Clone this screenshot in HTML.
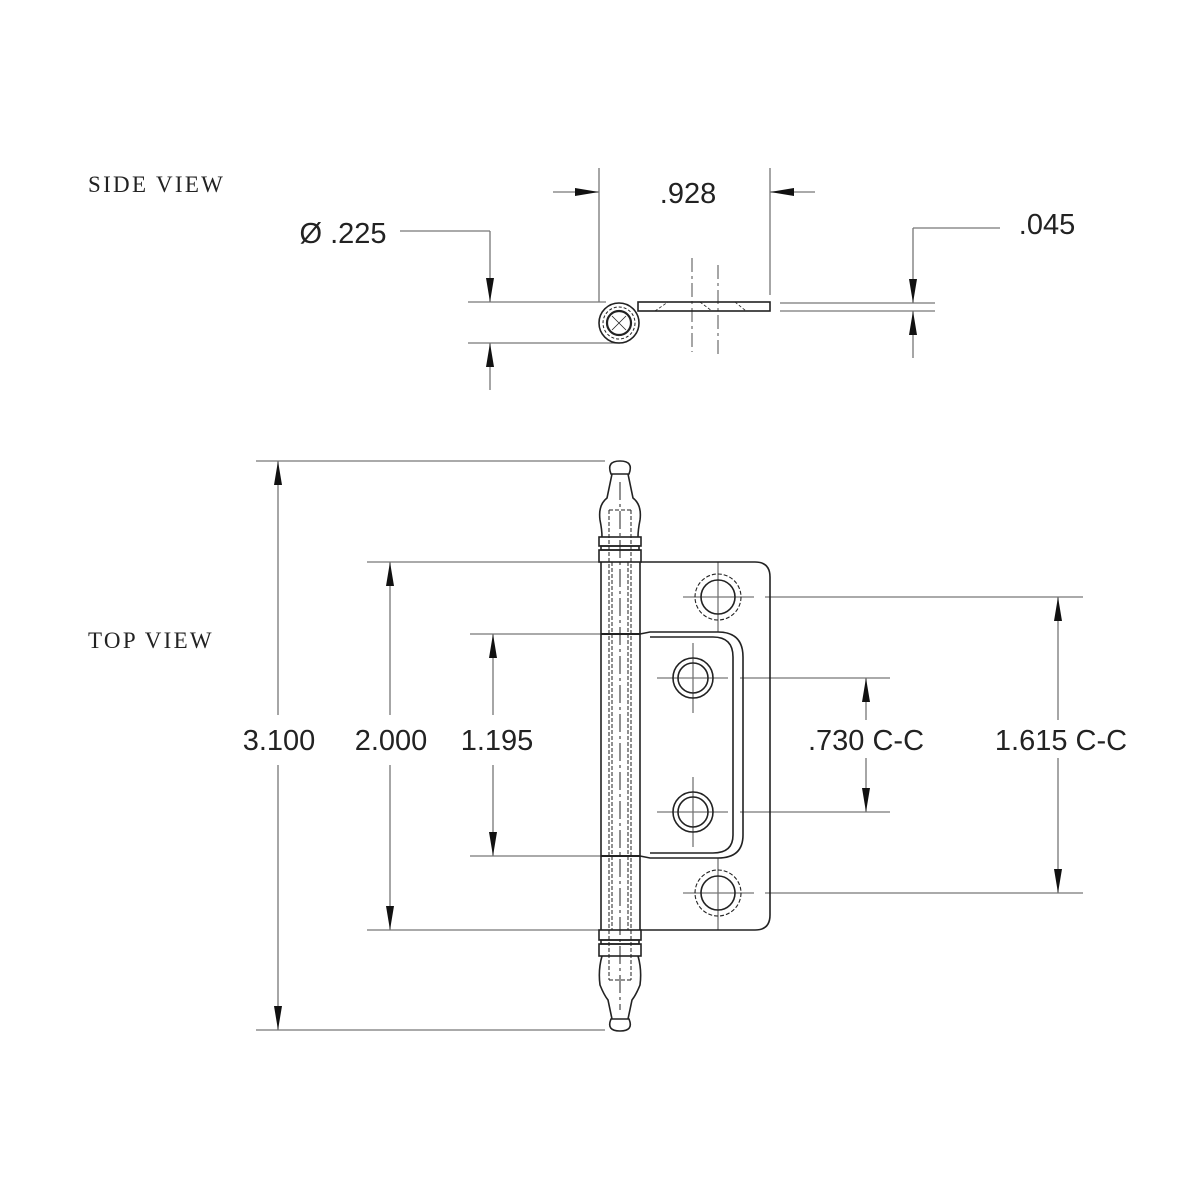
<!DOCTYPE html>
<html><head><meta charset="utf-8"><style>
html,body{margin:0;padding:0;background:#fff}
svg{display:block}
.t{font-family:"Liberation Sans",sans-serif;font-size:29px;fill:#222;text-anchor:middle}
.s{font-family:"Liberation Serif",serif;font-size:23px;fill:#222;letter-spacing:2.3px}
</style></head><body>
<svg width="1200" height="1200" viewBox="0 0 1200 1200" xmlns="http://www.w3.org/2000/svg">
<defs>
<marker id="a" viewBox="0 0 24 8" refX="24" refY="4" markerWidth="24" markerHeight="8" markerUnits="userSpaceOnUse" orient="auto"><path d="M0,0 L24,4 L0,8 z" fill="#111"/></marker>
</defs>
<g stroke="#777" stroke-width="1.3" fill="none">
<line x1="468" y1="302" x2="606" y2="302"/>
<line x1="468" y1="343" x2="620" y2="343"/>
<line x1="400" y1="231" x2="490" y2="231"/>
<line x1="490" y1="231" x2="490" y2="302" marker-end="url(#a)"/>
<line x1="490" y1="390" x2="490" y2="343" marker-end="url(#a)"/>
<line x1="599" y1="168" x2="599" y2="302"/>
<line x1="770" y1="168" x2="770" y2="295"/>
<line x1="553" y1="192" x2="599" y2="192" marker-end="url(#a)"/>
<line x1="815" y1="192" x2="770" y2="192" marker-end="url(#a)"/>
<line x1="780" y1="303" x2="935" y2="303"/>
<line x1="780" y1="311" x2="935" y2="311"/>
<line x1="913" y1="228" x2="1000" y2="228"/>
<line x1="913" y1="228" x2="913" y2="303" marker-end="url(#a)"/>
<line x1="913" y1="358" x2="913" y2="311" marker-end="url(#a)"/>
<line x1="692" y1="258" x2="692" y2="352" stroke-dasharray="14,4,3,4"/>
<line x1="718" y1="265" x2="718" y2="358" stroke-dasharray="14,4,3,4"/>
<line x1="256" y1="461" x2="605" y2="461"/>
<line x1="256" y1="1030" x2="605" y2="1030"/>
<line x1="278" y1="715" x2="278" y2="461" marker-end="url(#a)"/>
<line x1="278" y1="765" x2="278" y2="1030" marker-end="url(#a)"/>
<line x1="367" y1="562" x2="600" y2="562"/>
<line x1="367" y1="930" x2="600" y2="930"/>
<line x1="390" y1="715" x2="390" y2="562" marker-end="url(#a)"/>
<line x1="390" y1="765" x2="390" y2="930" marker-end="url(#a)"/>
<line x1="470" y1="634" x2="640" y2="634"/>
<line x1="470" y1="856" x2="640" y2="856"/>
<line x1="493" y1="715" x2="493" y2="634" marker-end="url(#a)"/>
<line x1="493" y1="765" x2="493" y2="856" marker-end="url(#a)"/>
<line x1="740" y1="678" x2="890" y2="678"/>
<line x1="740" y1="812" x2="890" y2="812"/>
<line x1="866" y1="720" x2="866" y2="678" marker-end="url(#a)"/>
<line x1="866" y1="758" x2="866" y2="812" marker-end="url(#a)"/>
<line x1="765" y1="597" x2="1083" y2="597"/>
<line x1="765" y1="893" x2="1083" y2="893"/>
<line x1="1058" y1="720" x2="1058" y2="597" marker-end="url(#a)"/>
<line x1="1058" y1="758" x2="1058" y2="893" marker-end="url(#a)"/>
<line x1="683" y1="597" x2="754" y2="597"/><line x1="718" y1="562" x2="718" y2="632"/>
<line x1="683" y1="893" x2="754" y2="893"/><line x1="718" y1="858" x2="718" y2="930"/>
<line x1="657" y1="678" x2="728" y2="678"/><line x1="693" y1="643" x2="693" y2="713"/>
<line x1="657" y1="812" x2="728" y2="812"/><line x1="693" y1="777" x2="693" y2="847"/>
</g>
<g stroke="#222" stroke-width="1.6" fill="none">
<rect x="638" y="302" width="132" height="9"/>
<circle cx="619" cy="323" r="20"/>
<circle cx="619" cy="323" r="16" stroke-dasharray="3,2" stroke-width="1"/>
<circle cx="619" cy="323" r="12" stroke-width="2.2"/>
<path d="M612,316 L626,330 M626,316 L612,330" stroke-width="0.8"/>
<path d="M655,311 L668,302 M700,302 L712,311 M735,302 L746,311" stroke-width="0.8" stroke-dasharray="3,2"/>
<line x1="601" y1="562" x2="601" y2="930"/>
<line x1="640" y1="562" x2="640" y2="930"/>
<g stroke-width="1" stroke-dasharray="4,2">
<line x1="609" y1="510" x2="609" y2="930"/><line x1="612" y1="562" x2="612" y2="930"/>
<line x1="628" y1="562" x2="628" y2="930"/><line x1="631" y1="510" x2="631" y2="980"/>
<line x1="609" y1="930" x2="609" y2="980"/><line x1="609" y1="980" x2="631" y2="980"/><line x1="609" y1="510" x2="631" y2="510"/>
</g>
<line x1="620" y1="482" x2="620" y2="1010" stroke-width="1" stroke-dasharray="18,4,3,4"/>
<line x1="601" y1="634" x2="640" y2="634" stroke-width="2"/>
<line x1="601" y1="856" x2="640" y2="856" stroke-width="2"/>
<path d="M611,474 Q606,461 620,461 Q634,461 629,474 Z"/>
<path d="M612,474 L607,498 Q598,505 600,520 Q602,530 602,537 M628,474 L633,498 Q642,505 640,520 Q638,530 638,537"/>
<rect x="599" y="537" width="42" height="9"/>
<rect x="601" y="546" width="38" height="4"/>
<rect x="599" y="550" width="42" height="12"/>
<rect x="599" y="930" width="42" height="10"/>
<rect x="601" y="940" width="38" height="4"/>
<rect x="599" y="944" width="42" height="12"/>
<path d="M602,956 Q598,970 600,985 Q604,995 608,1000 L612,1019 M638,956 Q642,970 640,985 Q636,995 632,1000 L628,1019"/>
<path d="M611,1019 Q606,1031 620,1031 Q634,1031 629,1019 Z"/>
<path d="M640,562 L755,562 Q770,562 770,577 L770,915 Q770,930 755,930 L640,930"/>
<path d="M640,634 L650,632 L718,632 Q743,632 743,657 L743,835 Q743,858 718,858 L650,858 L640,856"/>
<path d="M650,637 L713,637 Q733,637 733,657 L733,835 Q733,853 713,853 L650,853"/>
<circle cx="718" cy="597" r="17"/><circle cx="718" cy="597" r="23" stroke-dasharray="4,2" stroke-width="1.1"/>
<circle cx="718" cy="893" r="17"/><circle cx="718" cy="893" r="23" stroke-dasharray="4,2" stroke-width="1.1"/>
<circle cx="693" cy="678" r="20"/><circle cx="693" cy="678" r="15"/>
<circle cx="693" cy="812" r="20"/><circle cx="693" cy="812" r="15"/>
</g>
<text class="s" x="88" y="192">SIDE VIEW</text>
<text class="s" x="88" y="648">TOP VIEW</text>
<text class="t" x="688" y="203">.928</text>
<text class="t" x="1047" y="234">.045</text>
<text class="t" x="343" y="243">Ø .225</text>
<text class="t" x="279" y="750">3.100</text>
<text class="t" x="391" y="750">2.000</text>
<text class="t" x="497" y="750">1.195</text>
<text class="t" x="866" y="750">.730 C-C</text>
<text class="t" x="1061" y="750">1.615 C-C</text>
</svg>
</body></html>
